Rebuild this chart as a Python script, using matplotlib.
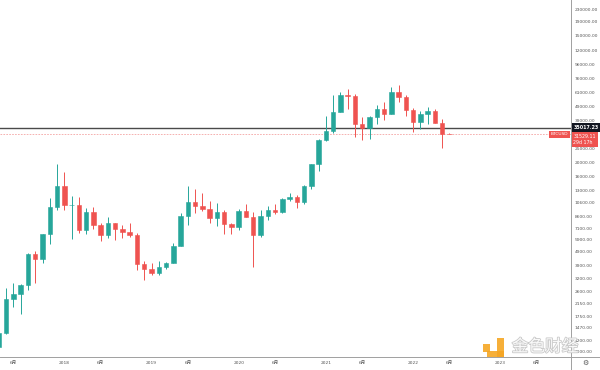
from __future__ import annotations

import matplotlib
matplotlib.use("Agg")
import matplotlib.patheffects as pe
import matplotlib.pyplot as plt
import matplotlib.transforms as mtransforms
import pandas as pd
from matplotlib.lines import Line2D
from matplotlib.patches import Rectangle
from matplotlib.ticker import NullLocator

plt.rcParams["font.family"] = ["DejaVu Sans", "Noto Sans CJK SC"]

# monthly BTCUSD candles, Apr 2017 .. Jun 2022
months = pd.period_range("2017-04", "2022-06", freq="M")
opens = [
    1080, 1348, 2300, 2480, 2875, 4718, 4338, 6450, 10000,
    13880, 10200, 10330, 6920, 9240, 7490, 6390, 7730, 7030, 6630, 6370, 4040,
    3740, 3460, 3810, 4100, 5320, 8560, 10820, 10080, 9600, 8290, 9150, 7540,
    7190, 9350, 8540, 6410, 8630, 9450, 9140, 11340, 11650, 10780, 13800, 19700,
    28990, 33110, 45160, 58800, 57700, 37300, 35040, 41460, 47100, 43800, 61300, 57000,
    46200, 38480, 43160, 45500, 37640, 31790,
]
highs = [
    1350, 2760, 2980, 2930, 4770, 4980, 6470, 11500, 19666,
    17250, 11790, 11700, 9760, 9990, 7760, 8500, 7760, 7410, 7680, 6590, 4240,
    4070, 4190, 4150, 5630, 9070, 13880, 13200, 12330, 10950, 10540, 9510, 7750,
    9590, 10500, 9190, 9470, 10070, 10380, 11450, 12480, 12080, 14100, 19500, 29300,
    41950, 58350, 61800, 64900, 59600, 41300, 42400, 50500, 52900, 67000, 69000, 59100,
    47900, 45800, 48200, 47400, 40000, 31900,
]
lows = [
    1060, 1330, 2040, 1830, 2670, 2972, 4110, 5510, 9500,
    9400, 5950, 6600, 6430, 7040, 5780, 6070, 5880, 6100, 6200, 3650, 3120,
    3350, 3390, 3720, 4080, 5330, 7450, 9070, 9320, 7710, 7300, 6520, 6430,
    6850, 8450, 3850, 6150, 8110, 8830, 8980, 10990, 9850, 10370, 13200, 17570,
    28130, 32300, 45000, 47000, 30000, 28800, 29300, 37300, 39600, 43300, 53000, 42000,
    32900, 34300, 37200, 37700, 25400, 31400,
]
closes = [
    1348, 2300, 2480, 2875, 4718, 4338, 6450, 10000, 13880,
    10200, 10330, 6920, 9240, 7490, 6390, 7730, 7030, 6630, 6370, 4040, 3740,
    3460, 3810, 4100, 5320, 8560, 10820, 10080, 9600, 8290, 9150, 7540, 7190,
    9350, 8540, 6410, 8630, 9450, 9140, 11340, 11650, 10780, 13800, 19700, 28990,
    33110, 45160, 58800, 57700, 37300, 35040, 41460, 47100, 43800, 61300, 57000, 46200,
    38480, 43160, 45500, 37640, 31790, 31529.11,
]

axis_months = pd.period_range("2017-04", "2023-10", freq="M")
price_ticks = [
    1000, 1200, 1470, 1750, 2150, 2600, 3200, 3900, 4900, 5900, 7100, 8600,
    10600, 13000, 16000, 20000, 25000, 39000, 49000, 61000, 76000, 96000,
    120000, 150000, 190000, 230000,
]
line_price = 35017.23
last_price = 31529.11
countdown = "29d 17h"
symbol = "BTCUSD"

UP = "#26a69a"
DOWN = "#ef5350"
W, H = 600, 370


def fx(px: float) -> float:
    return px / W


def fy(py: float) -> float:
    return 1 - py / H


def main() -> None:
    fig = plt.figure(figsize=(6, 3.7), dpi=100)
    ax = fig.add_axes([0, fy(356.5), fx(570.5), 1 - fy(356.5)])

    x = list(range(len(months)))
    colors = [UP if c >= o else DOWN for o, c in zip(opens, closes)]
    ax.vlines(x, lows, highs, colors=colors, linewidth=0.7, zorder=2)
    bottoms = [min(o, c) for o, c in zip(opens, closes)]
    heights = [abs(c - o) for o, c in zip(opens, closes)]
    ax.bar(x, heights, bottom=bottoms, width=0.62, color=colors,
           edgecolor=colors, linewidth=0.4, zorder=3)

    ax.set_yscale("log")
    ax.set_ylim(926, 265400)
    ax.set_xlim(0.15, 78.66)

    # horizontal lines
    ax.axhline(line_price, color="#4a4a4a", linewidth=1.0, zorder=1)
    ax.axhline(last_price, color="#f4a5a4", linewidth=0.6, linestyle=(0, (2, 1.5)), zorder=1)

    # axes styling
    for side in ("top", "left", "right", "bottom"):
        ax.spines[side].set_visible(False)
    ax.yaxis.tick_right()
    ax.yaxis.set_minor_locator(NullLocator())
    ax.set_yticks(price_ticks)
    ax.set_yticklabels([f"{p:.2f}" for p in price_ticks])
    ax.tick_params(axis="y", length=0, pad=3, labelsize=3.2, labelcolor="#555555")

    tick_pos, tick_lab = [], []
    for i, m in enumerate(axis_months):
        if m.month == 1:
            tick_pos.append(i)
            tick_lab.append(str(m.year))
        elif m.month == 6:
            tick_pos.append(i)
            tick_lab.append("6月")
    ax.set_xticks(tick_pos)
    ax.set_xticklabels(tick_lab)
    ax.tick_params(axis="x", length=0, pad=3.5, labelsize=3.2, labelcolor="#555555")

    fig.add_artist(Line2D([fx(570.5), fx(570.5)], [0, 1], color="#a0a0a0", linewidth=0.7))
    fig.add_artist(Line2D([0, 1], [fy(356.5), fy(356.5)], color="#a0a0a0", linewidth=0.7))

    # price labels on the scale
    trans = mtransforms.blended_transform_factory(ax.transAxes, ax.transData)
    ax.text(1.005, line_price, f"{line_price:.2f}", transform=trans, ha="left", va="center",
            fontsize=3.4, color="white", fontweight="bold", clip_on=False,
            bbox=dict(boxstyle="square,pad=0.45", fc="#131722", ec="none"))
    ax.text(1.005, last_price, f"{last_price:.2f}\n{countdown}", transform=trans, ha="left",
            va="top", fontsize=3.4, color="white", clip_on=False, linespacing=1.2,
            bbox=dict(boxstyle="square,pad=0.45", fc=DOWN, ec="none"))
    ax.text(0.996, last_price, symbol, transform=trans, ha="right", va="center",
            fontsize=3.2, color="white", clip_on=False,
            bbox=dict(boxstyle="square,pad=0.35", fc=DOWN, ec="none"))

    # watermark
    orange = "#f5a623"
    for x0, y0, x1, y1 in ((483, 344, 490, 352), (497, 338, 504, 357), (487, 351, 504, 357)):
        fig.add_artist(Rectangle((fx(x0), fy(y1)), fx(x1 - x0), (y1 - y0) / H,
                                 facecolor=orange, edgecolor="none", alpha=0.9))
    fig.text(fx(545), fy(347), "金色财经", ha="center", va="center", fontsize=12,
             family=["Noto Sans CJK SC"], color="white", alpha=0.9,
             path_effects=[pe.withStroke(linewidth=1.2, foreground="#c4c4c4")])

    fig.text(fx(585), fy(363), "⚙", ha="center", va="center", fontsize=5, color="#555555")

    fig.savefig("out.png", dpi=100)
    plt.close(fig)


if __name__ == "__main__":
    main()
